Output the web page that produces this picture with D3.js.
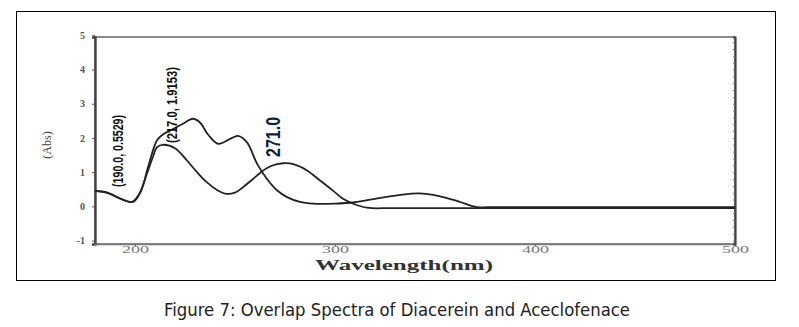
<!DOCTYPE html>
<meta charset="utf-8">
<script src="https://d3js.org/d3.v7.min.js"></script>
<style>
  body { margin: 0; background: #fff; }
</style>
<div id="my_dataviz"></div>
<script>

// spectrum with the 2.6 maximum
var wlA  = [180, 187.5, 193, 199, 203, 206.5, 211, 214, 219, 223.5, 229, 232.5, 236.5, 241.5, 247.5, 251.5, 256, 261, 266, 271, 276, 282.5, 289, 300, 310, 320, 332, 342, 352, 362, 371, 380, 400, 450, 500];
var absA = [0.45, 0.37, 0.22, 0.13, 0.45, 1.14, 1.93, 2.1, 2.26, 2.4, 2.56, 2.45, 2.1, 1.83, 1.97, 2.06, 1.87, 1.25, 0.8, 0.47, 0.27, 0.13, 0.08, 0.08, 0.12, 0.22, 0.33, 0.38, 0.3, 0.14, -0.02, -0.02, -0.02, -0.02, -0.02];

// spectrum with the 1.8 / 1.26 maxima
var wlB  = [180, 185, 191, 198.5, 202, 206, 209, 211, 214, 220, 226, 231, 236, 241, 245, 250, 254, 259, 263, 268, 274, 280, 286, 292, 299, 304, 309, 316, 330, 400, 500];
var absB = [0.45, 0.42, 0.27, 0.13, 0.35, 0.96, 1.45, 1.73, 1.8, 1.7, 1.34, 1.0, 0.7, 0.48, 0.37, 0.4, 0.56, 0.8, 1.0, 1.18, 1.26, 1.22, 1.05, 0.78, 0.46, 0.22, 0.08, -0.04, -0.05, -0.05, -0.05];

var xTicks = [200, 300, 400, 500];
var yTicks = [-1, 0, 1, 2, 3, 4, 5];

// annotation texts, anchored in data units
var noteText = ["(190.0, 0.5529)", "(217.0, 1.9153)", "271.0"];
var noteWl   = [191.5, 218.5, 268.5];
var noteAbs  = [1.62, 2.96, 2.03];

var W = 799, H = 327;
var margin = {left: 95, top: 37, right: 64, bottom: 83};
var width = W - margin.left - margin.right,
    height = H - margin.top - margin.bottom;

var svg = d3.select("#my_dataviz")
  .append("svg")
    .attr("width", W)
    .attr("height", H);

// outer frame
svg.append("rect")
  .attr("x", 16.5).attr("y", 11.5)
  .attr("width", 759).attr("height", 269)
  .attr("fill", "none")
  .attr("stroke", "#000")
  .attr("stroke-width", 1);

var g = svg.append("g")
  .attr("transform", "translate(" + margin.left + "," + margin.top + ")");

var x = d3.scaleLinear().domain([180, 500]).range([0, width]);
var y = d3.scaleLinear().domain([-1.1, 4.95]).range([height, 0]);

// plot box
g.append("rect")
  .attr("width", width).attr("height", height)
  .attr("fill", "none")
  .attr("stroke", "#666")
  .attr("stroke-width", 1.5);

// y axis
var yAx = g.append("g")
  .call(d3.axisLeft(y).tickValues(yTicks).tickSize(3).tickFormat(function(d) { return d; }));
yAx.select(".domain").attr("stroke", "#444").attr("stroke-width", 2.4);
yAx.selectAll("line").attr("stroke", "#555");
yAx.selectAll("text")
  .attr("x", -10)
  .attr("fill", "#555")
  .style("font-family", "'Liberation Serif', 'DejaVu Serif', serif")
  .style("font-size", "10px")
  .style("font-weight", "bold");

// x axis
var xAx = g.append("g")
  .attr("transform", "translate(0," + height + ")")
  .call(d3.axisBottom(x).tickValues(xTicks).tickSize(2));
xAx.select(".domain").attr("stroke", "#777").attr("stroke-width", 1.5);
xAx.selectAll("line").attr("stroke", "#666");
xAx.selectAll("text")
  .attr("y", 2)
  .attr("fill", "#777")
  .attr("textLength", 27)
  .attr("lengthAdjust", "spacingAndGlyphs")
  .style("font-family", "'Liberation Serif', 'DejaVu Serif', serif")
  .style("font-size", "10px");

// right-side small ticks
g.append("g")
  .attr("transform", "translate(" + width + ",0)")
  .call(d3.axisRight(y).ticks(24).tickSize(-2).tickFormat(""))
  .call(function(s) { s.select(".domain").attr("stroke", "#444").attr("stroke-width", 2.2); })
  .selectAll("line").attr("stroke", "#777");

// spectra
var line = d3.line()
  .x(function(d) { return x(d[0]); })
  .y(function(d) { return y(d[1]); })
  .curve(d3.curveCatmullRom.alpha(0.5));

[d3.zip(wlA, absA), d3.zip(wlB, absB)].forEach(function(pts) {
  g.append("path")
    .datum(pts)
    .attr("fill", "none")
    .attr("stroke", "#222")
    .attr("stroke-width", 1.8)
    .attr("stroke-linejoin", "round")
    .attr("d", line);
});

// rotated annotations (squeezed like the scanned labels)
var noteLen = [72, 76, 40];
noteText.forEach(function(t, i) {
  var big = (i === 2);
  g.append("text")
    .attr("transform", "translate(" + x(noteWl[i]) + "," + y(noteAbs[i]) + ") rotate(-90)")
    .attr("text-anchor", "middle")
    .attr("dominant-baseline", "central")
    .attr("textLength", noteLen[i])
    .attr("lengthAdjust", "spacingAndGlyphs")
    .attr("fill", big ? "#0d1d40" : "#111")
    .style("font-family", "'Liberation Sans', Arial, sans-serif")
    .style("font-weight", "bold")
    .style("font-size", big ? "21px" : "14px")
    .text(t);
});

// axis titles
svg.append("text")
  .attr("transform", "translate(47,145) rotate(-90)")
  .attr("text-anchor", "middle")
  .attr("dominant-baseline", "central")
  .attr("fill", "#444")
  .style("font-family", "'Liberation Serif', 'DejaVu Serif', serif")
  .style("font-size", "12px")
  .text("(Abs)");

svg.append("text")
  .attr("x", 404).attr("y", 270)
  .attr("text-anchor", "middle")
  .attr("textLength", 178)
  .attr("lengthAdjust", "spacingAndGlyphs")
  .attr("fill", "#333")
  .style("font-family", "'Liberation Serif', 'DejaVu Serif', serif")
  .style("font-size", "15px")
  .style("font-weight", "bold")
  .text("Wavelength(nm)");

// caption
svg.append("text")
  .attr("x", 397).attr("y", 316)
  .attr("text-anchor", "middle")
  .attr("textLength", 466)
  .attr("lengthAdjust", "spacingAndGlyphs")
  .attr("fill", "#222")
  .style("font-family", "'DejaVu Sans Condensed', 'DejaVu Sans', sans-serif")
  .style("font-stretch", "condensed")
  .style("font-size", "17px")
  .text("Figure 7: Overlap Spectra of Diacerein and Aceclofenace");

</script>
